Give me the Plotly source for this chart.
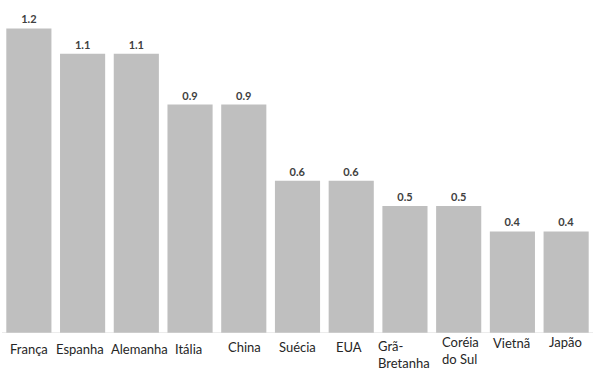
import plotly.graph_objects as go

categories = ["França", "Espanha", "Alemanha", "Itália", "China", "Suécia", "EUA",
              "Grã-<br>Bretanha", "Coréia<br>do Sul", "Vietnã", "Japão"]
values = [1.2, 1.1, 1.1, 0.9, 0.9, 0.6, 0.6, 0.5, 0.5, 0.4, 0.4]
value_labels = ["1.2", "1.1", "1.1", "0.9", "0.9", "0.6", "0.6", "0.5", "0.5", "0.4", "0.4"]

# small per-label nudges (pixels) mimicking the reference label placement
label_dx = [0, -3, 3, -2, 1, 0, -2, -1, 2, -1, -1]
label_dy = [0, 0, 0, 0, 2, 2, 2, 3, 7, 6, 7]

fig = go.Figure()
fig.add_trace(go.Bar(
    x=list(range(len(categories))), y=values,
    marker=dict(color="#BFBFBF", line=dict(width=0)),
    text=[f"<b>{t}</b>" for t in value_labels],
    textposition="outside",
    textfont=dict(family="Lato, Open Sans, sans-serif", size=11, color="#404040"),
    cliponaxis=False,
    hoverinfo="skip",
))

for i, c in enumerate(categories):
    fig.add_annotation(
        x=i, y=0, xref="x", yref="y", text=c, showarrow=False,
        yanchor="top", xanchor="center", align="left",
        xshift=label_dx[i], yshift=-6 + label_dy[i],
        font=dict(family="Lato, Open Sans, sans-serif", size=13, color="#262626"),
    )

fig.update_layout(
    width=600, height=385,
    margin=dict(l=2, r=7, t=3, b=52),
    paper_bgcolor="white", plot_bgcolor="white",
    bargap=0.16, showlegend=False,
    xaxis=dict(range=[-0.5, len(categories) - 0.5], showticklabels=False, ticks="",
               showgrid=False, zeroline=False, showline=False),
    yaxis=dict(range=[0, 1.3], visible=False),
    shapes=[dict(type="line", xref="paper", yref="y", x0=0, x1=1, y0=0, y1=0,
                 line=dict(color="#D9D9D9", width=1))],
)

fig.write_html("out.html", config={"displayModeBar": False},
               post_script="document.body.style.margin='0';")
